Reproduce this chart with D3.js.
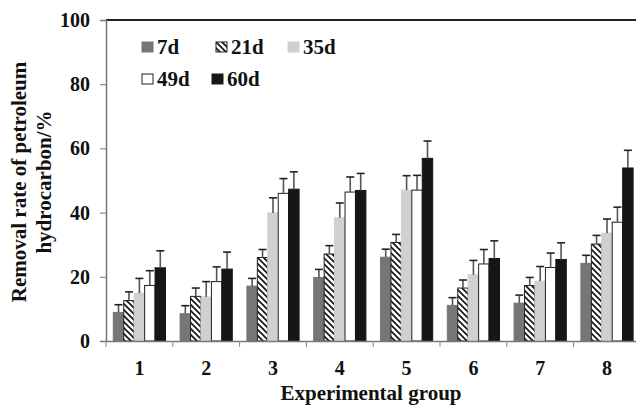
<!DOCTYPE html>
<html><head><meta charset="utf-8">
<script src="https://cdn.jsdelivr.net/npm/d3@7"></script>
<style>body{margin:0;background:#fff}svg{display:block}</style>
</head><body><svg id="c" width="636" height="406"></svg>
<script>
const groups = ["1","2","3","4","5","6","7","8"];
const seriesNames = ["7d","21d","35d","49d","60d"];
const v7d  = [8.9, 8.5, 17.1, 19.8, 26.1, 11.1, 11.8, 24.2];
const v21d = [12.6, 13.9, 26.0, 27.1, 30.7, 16.5, 17.3, 30.2];
const v35d = [14.9, 13.7, 39.9, 38.4, 47.0, 20.6, 18.6, 33.6];
const v49d = [17.3, 18.5, 46.0, 46.4, 47.0, 24.0, 22.9, 37.0];
const v60d = [22.8, 22.4, 47.3, 46.9, 56.9, 25.7, 25.4, 53.9];
const e7d  = [2.4, 2.5, 2.4, 2.5, 2.5, 2.4, 2.5, 2.5];
const e21d = [2.7, 2.6, 2.5, 2.6, 2.5, 2.5, 2.5, 2.7];
const e35d = [4.6, 4.8, 4.7, 4.6, 4.5, 4.5, 4.6, 4.4];
const e49d = [4.6, 4.6, 4.6, 4.7, 4.6, 4.5, 4.5, 4.7];
const e60d = [5.3, 5.3, 5.4, 5.3, 5.4, 5.5, 5.2, 5.5];
const yTicks = [0, 20, 40, 60, 80, 100];

const values = [v7d, v21d, v35d, v49d, v60d];
const errors = [e7d, e21d, e35d, e49d, e60d];
const fills = ["#767676", "url(#hatch)", "#d0d0d0", "#ffffff", "#161616"];
const strokes = ["#767676", "#222", "#d0d0d0", "#222", "#161616"];
const FONT = '"Liberation Serif","Times New Roman",serif';
function styleText(sel, size) {
  return sel.style("font-family", FONT).style("font-weight", "bold")
    .style("font-size", size + "px").attr("fill", "#111");
}

const svg = d3.select("#c");
const defs = svg.append("defs");
const pat = defs.append("pattern").attr("id","hatch").attr("patternUnits","userSpaceOnUse")
  .attr("width",6).attr("height",6);
pat.append("rect").attr("width",6).attr("height",6).attr("fill","#fff");
pat.append("path").attr("d","M0,0L6,6M-1,5L1,7M5,-1L7,1").attr("stroke","#111").attr("stroke-width",1.6);

const leftX = 106, topY = 20, bottomY = 341, bandW = 66.8;
const x = d3.scaleBand().domain(groups).range([leftX, leftX + bandW*8]).padding(0);
const xi = d3.scaleBand().domain(seriesNames).range([7.3, 59.5]).padding(0);
const y = d3.scaleLinear().domain([0,100]).range([bottomY, topY]);

// top frame line
svg.append("line").attr("x1",leftX).attr("x2",636).attr("y1",topY).attr("y2",topY)
  .attr("stroke","#222").attr("stroke-width",2);

// bars
seriesNames.forEach((s, si) => {
  const g = svg.append("g");
  groups.forEach((grp, gi) => {
    const bx = x(grp) + xi(s), bw = xi.bandwidth();
    const val = values[si][gi], err = errors[si][gi];
    g.append("rect").attr("x", bx).attr("y", y(val)).attr("width", bw).attr("height", y(0)-y(val))
      .attr("fill", fills[si]).attr("stroke", strokes[si]).attr("stroke-width", 1);
    const cx = bx + bw/2;
    g.append("line").attr("x1",cx).attr("x2",cx).attr("y1",y(val)).attr("y2",y(val+err))
      .attr("stroke","#555").attr("stroke-width",1.6);
    g.append("line").attr("x1",cx-4).attr("x2",cx+4).attr("y1",y(val+err)).attr("y2",y(val+err))
      .attr("stroke","#222").attr("stroke-width",1.6);
  });
});

// y axis
const ya = svg.append("g").attr("transform",`translate(${leftX},0)`)
  .call(d3.axisLeft(y).tickValues(yTicks).tickSize(6).tickPadding(10));
ya.select(".domain").attr("stroke","#777").attr("stroke-width",1.5);
ya.selectAll(".tick line").attr("stroke","#777");
styleText(ya.selectAll(".tick text"), 20);

// x axis
const xa = svg.append("g").attr("transform",`translate(0,${bottomY})`)
  .call(d3.axisBottom(x).tickSize(0).tickPadding(20));
xa.select(".domain").attr("stroke","#777").attr("stroke-width",1.5);
styleText(xa.selectAll(".tick text"), 20);
// boundary ticks
svg.append("g").selectAll("line").data(groups).join("line")
  .attr("x1", d => x(d)).attr("x2", d => x(d)).attr("y1", bottomY).attr("y2", bottomY+6)
  .attr("stroke","#888").attr("stroke-width",1);

// axis titles
styleText(svg.append("text").attr("x", 371).attr("y", 400).attr("text-anchor","middle"), 21)
  .text("Experimental group");
const yt = styleText(svg.append("text").attr("transform","translate(26,182) rotate(-90)")
  .attr("text-anchor","middle"), 21);
yt.append("tspan").attr("x",0).attr("dy",0).text("Removal rate of petroleum");
yt.append("tspan").attr("x",0).attr("dy",25).text("hydrocarbon/%");

// legend
const legPos = [[142,47],[216,47],[288,47],[142,79],[212,79]];
seriesNames.forEach((s, si) => {
  const [lx, ly] = legPos[si];
  svg.append("rect").attr("x", lx).attr("y", ly-5).attr("width",11).attr("height",10)
    .attr("fill", fills[si]).attr("stroke", si===1||si===3 ? "#222" : fills[si]).attr("stroke-width",1);
  styleText(svg.append("text").attr("x", lx+15).attr("y", ly+7), 21).text(s);
});
</script></body></html>
